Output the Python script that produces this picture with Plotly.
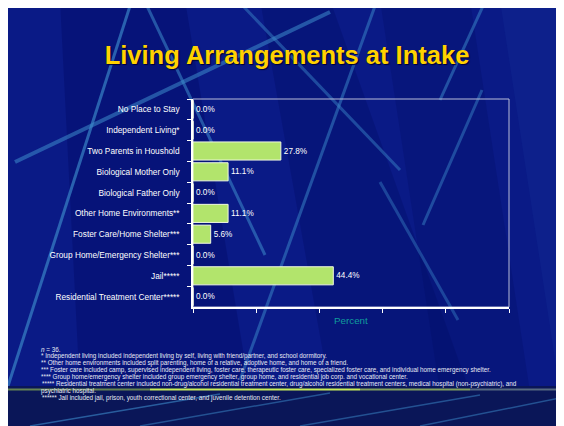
import plotly.graph_objects as go

# the page body adds an 8px margin, so the figure is drawn 8px smaller
# and every pixel position below is shifted by that amount
W, H = 564, 426
OFF = 8

categories = [
    "No Place to Stay",
    "Independent Living*",
    "Two Parents in Houshold",
    "Biological Mother Only",
    "Biological Father Only",
    "Other Home Environments**",
    "Foster Care/Home Shelter***",
    "Group Home/Emergency Shelter***",
    "Jail*****",
    "Residential Treatment Center*****",
]
percent = [0.0, 0.0, 27.8, 11.1, 0.0, 11.1, 5.6, 0.0, 44.4, 0.0]
x_ticks = [0, 20, 40, 60, 80, 100]

footnotes = [
    "<i>n</i> = 36.",
    "* Independent living included independent living by self, living with friend/partner, and school dormitory.",
    "** Other home environments included split parenting, home of a relative, adoptive home, and home of a friend.",
    "*** Foster care included camp, supervised independent living, foster care, therapeutic foster care, specialized foster care, and individual home emergency shelter.",
    "**** Group home/emergency shelter included group emergency shelter, group home, and residential job corp. and vocational center.",
    "***** Residential treatment center included non-drug/alcohol residential treatment center, drug/alcohol residential treatment centers, medical hospital (non-psychiatric), and",
    "psychiatric hospital.",
    "****** Jail included jail, prison, youth correctional center, and juvenile detention center.",
]

FONT = "Liberation Sans, Arial, sans-serif"

# plot area in (screen) pixels
PL, PR, PT, PB = 193, 509, 99, 307


def px(x):
    return (x - PL) / (PR - PL)


def py(y):
    return (PB - y) / (PB - PT)


def rect(x0, y0, x1, y1, color, opacity=1.0):
    return dict(type="rect", xref="paper", yref="paper", layer="below",
                x0=px(x0), x1=px(x1), y0=py(y1), y1=py(y0),
                fillcolor=color, opacity=opacity, line=dict(width=0))


def poly(points, color, opacity):
    d = "M " + " L ".join(f"{px(x)},{py(y)}" for x, y in points) + " Z"
    return dict(type="path", xref="paper", yref="paper", layer="below", path=d,
                fillcolor=color, opacity=opacity, line=dict(width=0))


def seg(x0, y0, x1, y1, color="#3d8ccc", width=3, opacity=0.75):
    return dict(type="line", xref="paper", yref="paper", layer="below",
                x0=px(x0), y0=py(y0), x1=px(x1), y1=py(y1),
                line=dict(color=color, width=width), opacity=opacity)


fig = go.Figure()
fig.add_trace(
    go.Bar(
        y=categories,
        x=percent,
        orientation="h",
        marker=dict(color="#b2e46c", line=dict(color="#f0f8e0", width=1)),
        text=[f"{v:.1f}%" for v in percent],
        textposition="outside",
        textfont=dict(color="white", size=8.2, family=FONT),
        cliponaxis=False,
        hoverinfo="skip",
    )
)

shapes = [
    # slide background
    rect(0, 0, 600, 392, "#0a1a86"),
    poly([(60, 0), (185, 0), (250, 392), (80, 392)], "#000a60", 0.35),
    poly([(260, 0), (330, 0), (470, 392), (330, 392)], "#000a60", 0.3),
    poly([(380, 0), (470, 0), (530, 392), (440, 392)], "#000a60", 0.25),
    poly([(500, 0), (600, 0), (600, 392), (560, 392)], "#1a3aa0", 0.2),
    # decorative streaks
    seg(15, 162, 330, 12, width=4, opacity=0.55),
    seg(130, 6, 8, 386, width=3, opacity=0.65),
    seg(147, 6, 265, 255, width=3, opacity=0.55),
    seg(243, 6, 400, 170, width=3, opacity=0.45),
    seg(375, 6, 240, 380, width=3, opacity=0.5),
    seg(483, 6, 440, 100, width=3, opacity=0.5),
    seg(482, 90, 423, 225, width=3, opacity=0.45),
    seg(380, 182, 458, 320, width=3, opacity=0.4),
    # bottom band
    rect(0, 386, 600, 440, "#0a1658"),
    seg(30, 426, 220, 394, width=1.5, opacity=0.6),
    seg(140, 426, 330, 393, width=1.5, opacity=0.5),
    seg(300, 426, 480, 395, width=1.5, opacity=0.5),
    seg(420, 426, 560, 398, width=1.5, opacity=0.5),
    seg(0, 389.5, 150, 389.5, color="#6f8f52", width=2, opacity=0.9),
    seg(150, 389.5, 360, 389.5, color="#c8ec5a", width=2, opacity=1.0),
    seg(360, 389.5, 470, 389.5, color="#90b060", width=2, opacity=0.9),
    seg(470, 389.5, 600, 389.5, color="#6a7f8a", width=2, opacity=0.8),
    # plot frame (top/right light grey)
    dict(type="rect", xref="paper", yref="paper", x0=0, x1=1, y0=0, y1=1,
         line=dict(color="#b8bcd8", width=1), layer="below"),
]

annotations = [
    dict(text="Percent", xref="paper", yref="paper", x=0.5, y=py(320),
         showarrow=False, font=dict(color="#109c9c", size=9.8, family=FONT),
         xanchor="center", yanchor="middle"),
]
fy = [349, 356, 363, 370, 377, 384, 391, 398]
fx = [39, 39, 39, 39, 39, 40, 39, 40]
for line, y, x in zip(footnotes, fy, fx):
    annotations.append(
        dict(text=line, xref="paper", yref="paper", x=px(x), y=py(y),
             showarrow=False, xanchor="left", yanchor="middle",
             font=dict(color="#e8eaf4", size=6.3, family=FONT))
    )

fig.update_layout(
    width=W - OFF,
    height=H - OFF,
    paper_bgcolor="#0a1a86",
    plot_bgcolor="rgba(0,0,0,0)",
    margin=dict(l=PL - OFF, r=W - PR, t=PT - OFF, b=H - PB, pad=0),
    showlegend=False,
    bargap=0.13,
    title=dict(
        text="<b>Living Arrangements at Intake</b>",
        x=(287 - OFF) / (W - OFF), y=1 - (55 - OFF) / (H - OFF),
        xref="container", yref="container",
        xanchor="center", yanchor="middle",
        font=dict(color="#ffd200", size=25.5, family=FONT,
                  shadow="1px 1px 1px #000030"),
    ),
    xaxis=dict(
        range=[0, 100],
        tickvals=x_ticks,
        showticklabels=False,
        ticks="outside",
        ticklen=4,
        tickcolor="white",
        showline=True,
        linecolor="white",
        linewidth=1.5,
        showgrid=False,
        zeroline=False,
    ),
    yaxis=dict(
        autorange="reversed",
        ticks="outside",
        tickson="boundaries",
        ticklen=4,
        tickcolor="white",
        showline=True,
        linecolor="white",
        linewidth=1.5,
        showgrid=False,
        ticklabelstandoff=10,
        tickfont=dict(color="white", size=8.3, family=FONT),
    ),
    shapes=shapes,
    annotations=annotations,
)

fig.write_html("out.html")
